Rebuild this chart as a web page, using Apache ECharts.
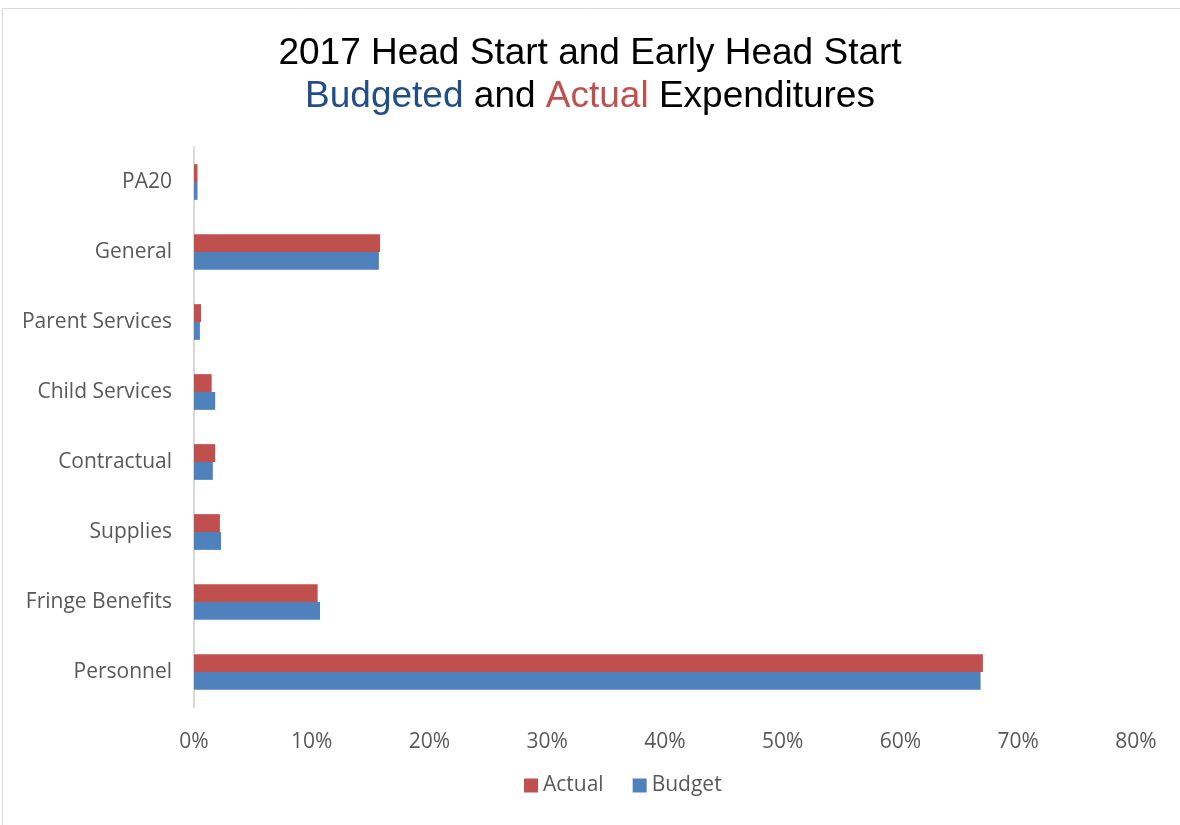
<!DOCTYPE html>
<html><head><meta charset="utf-8">
<script src="https://cdn.jsdelivr.net/npm/echarts@6/dist/echarts.min.js"></script>
<style>html,body{margin:0;padding:0;background:#fff}#c{width:1180px;height:825px}</style>
</head><body><div id="c"></div>
<script>
const categories = ['Personnel','Fringe Benefits','Supplies','Contractual','Child Services','Parent Services','General','PA20'];
const budget = [66.8, 10.7, 2.3, 1.6, 1.8, 0.5, 15.7, 0.3];
const actual = [67.0, 10.5, 2.2, 1.8, 1.5, 0.6, 15.8, 0.3];
const xTicks = {min:0, max:80, interval:10};

const chart = echarts.init(document.getElementById('c'));
chart.setOption({
  animation:false,
  graphic:[{type:'rect',shape:{x:2.5,y:8.5,width:1190,height:830},style:{fill:'none',stroke:'#d9d9d9',lineWidth:1}}],
  title:{
    left:'center', top:27,
    text:'2017 Head Start and Early Head Start\n{b|Budgeted} and {a|Actual} Expenditures',
    textStyle:{fontFamily:'Liberation Sans',fontSize:37,fontWeight:'normal',color:'#000',lineHeight:43,
      rich:{b:{color:'#1F4E89',fontFamily:'Liberation Sans',fontSize:37,lineHeight:43},a:{color:'#C0504D',fontFamily:'Liberation Sans',fontSize:37,lineHeight:43}}}
  },
  legend:{
    bottom:24, left:519, itemWidth:14, itemHeight:14, itemGap:29,
    icon:'rect',
    data:['Actual','Budget'],
    textStyle:{fontFamily:'Open Sans',fontSize:21,color:'#595959'}
  },
  grid:{left:194,right:44,top:147,height:560,containLabel:false},
  xAxis:{type:'value',min:xTicks.min,max:xTicks.max,interval:xTicks.interval,
    axisLabel:{formatter:'{value}%',fontFamily:'Open Sans',fontSize:21,color:'#595959',margin:25},
    splitLine:{show:false},axisLine:{show:false},axisTick:{show:false}},
  yAxis:{type:'category',data:categories,
    axisLabel:{fontFamily:'Open Sans',fontSize:21,color:'#595959',margin:22},
    axisLine:{lineStyle:{color:'#d9d9d9',width:2}},axisTick:{show:false}},
  series:[
    {name:'Actual',type:'bar',data:actual,barGap:'0%',barCategoryGap:'49%',itemStyle:{color:'#C0504D'}},
    {name:'Budget',type:'bar',data:budget,barGap:'0%',barCategoryGap:'49%',itemStyle:{color:'#4F81BD'}}
  ]
});
</script></body></html>
